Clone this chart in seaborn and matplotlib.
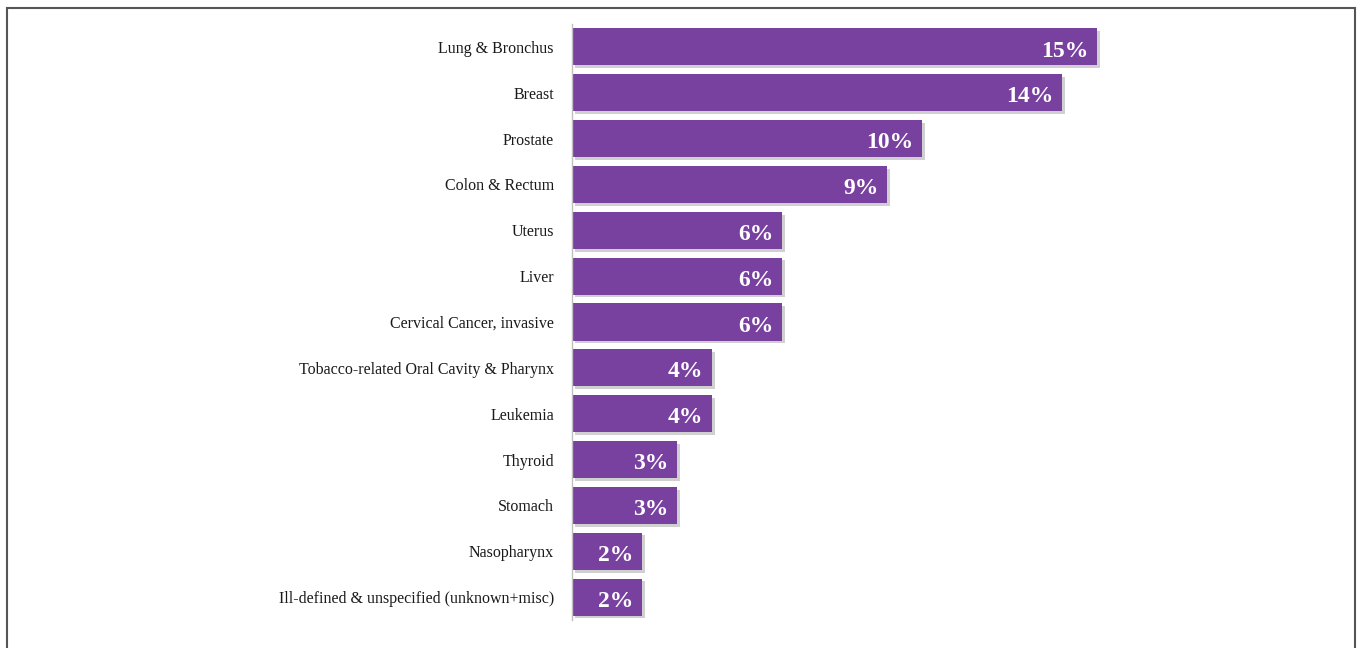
import matplotlib
matplotlib.use("Agg")
from matplotlib import pyplot as plt
from matplotlib import patheffects as pe
from matplotlib.patches import Rectangle
import pandas as pd
import seaborn as sns

sites = ["Lung & Bronchus", "Breast", "Prostate", "Colon & Rectum", "Uterus", "Liver",
         "Cervical Cancer, invasive", "Tobacco-related Oral Cavity & Pharynx", "Leukemia",
         "Thyroid", "Stomach", "Nasopharynx", "Ill-defined & unspecified (unknown+misc)"]
shares = [15, 14, 10, 9, 6, 6, 6, 4, 4, 3, 3, 2, 2]
value_labels = ["15%", "14%", "10%", "9%", "6%", "6%", "6%", "4%", "4%", "3%", "3%", "2%", "2%"]

df = pd.DataFrame({"site": sites, "share": shares})

sns.set_style("white")
plt.rcParams["font.family"] = ["Liberation Serif", "DejaVu Serif"]

fig = plt.figure(figsize=(13.58, 6.48), dpi=100)
# axes: x from 572px, 35px per percent; y from 24px to 620px
ax = fig.add_axes([572 / 1358, 1 - 620 / 648, 700 / 1358, 596 / 648])
sns.barplot(data=df, x="share", y="site", color="#7841A0", saturation=1,
            width=0.81, ax=ax, orient="h")

shadow = [pe.SimplePatchShadow(offset=(2, -2), shadow_rgbFace="#666666", alpha=0.3), pe.Normal()]
for bar in ax.patches:
    bar.set_path_effects(shadow)
    bar.set_edgecolor("none")

for i, (v, lab) in enumerate(zip(shares, value_labels)):
    ax.text(v - 0.25, i + 0.09, lab, ha="right", va="center", color="white",
            fontsize=17, fontweight="bold")

ax.set_xlim(0, 20)
ax.set_ylim(12.5, -0.5)
ax.set_xlabel("")
ax.set_ylabel("")
ax.set_xticks([])
ax.tick_params(axis="y", length=0, pad=13, labelsize=11.5, labelcolor="#1a1a1a")
for s in ["top", "right", "bottom"]:
    ax.spines[s].set_visible(False)
ax.spines["left"].set_color("#BFBFBF")
ax.spines["left"].set_linewidth(1)

# outer frame (open at the bottom)
fig.add_artist(Rectangle((7 / 1358, -0.05), 1348 / 1358, 1.05 - 8 / 648,
                         transform=fig.transFigure, fill=False,
                         edgecolor="#555555", linewidth=1.5))

fig.savefig("out.png", dpi=100)
